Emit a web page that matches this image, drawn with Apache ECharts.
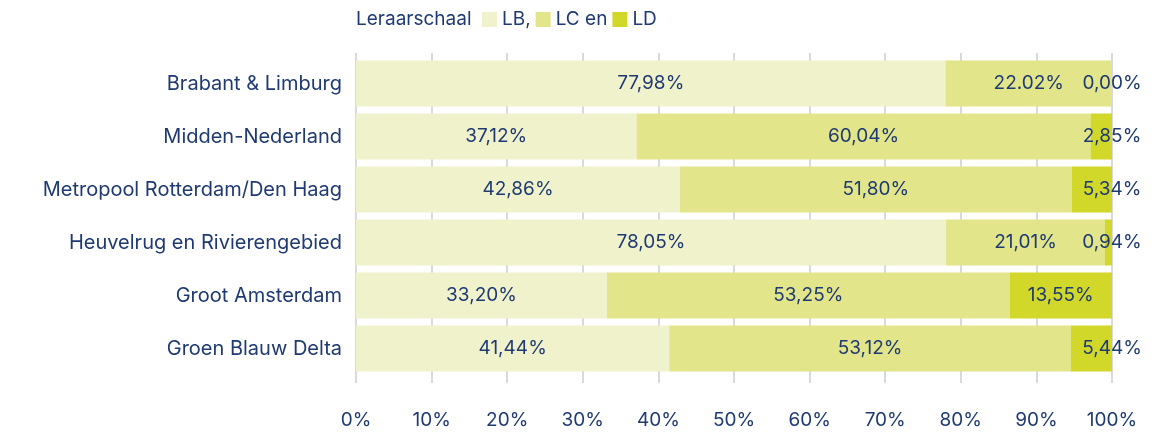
<!DOCTYPE html>
<html>
<head>
<meta charset="utf-8">
<script src="https://cdn.jsdelivr.net/npm/echarts@6/dist/echarts.min.js"></script>
<style>
  html, body { margin: 0; padding: 0; background: #fff; }
  #chart { width: 1160px; height: 434px; }
</style>
</head>
<body>
<div id="chart"></div>
<script>
var regions = ['Brabant & Limburg', 'Midden-Nederland', 'Metropool Rotterdam/Den Haag',
  'Heuvelrug en Rivierengebied', 'Groot Amsterdam', 'Groen Blauw Delta'];
var seriesNames = ['LB,', 'LC en', 'LD'];
var lbValues = [77.98, 37.12, 42.86, 78.05, 33.20, 41.44];
var lcValues = [22.02, 60.04, 51.80, 21.01, 53.25, 53.12];
var ldValues = [0.00, 2.85, 5.34, 0.94, 13.55, 5.44];
var xTicks = [0, 10, 20, 30, 40, 50, 60, 70, 80, 90, 100];

// the source writes this one label with a dot instead of a comma
var dotLabels = { 'LC en': ['Brabant & Limburg'] };

var navy = '#1f3a72';
var font = 'Inter';
var colors = ['#f0f2cc', '#e2e589', '#d1d829'];

function fmt(p) {
  var s = p.value.toFixed(2);
  var dots = dotLabels[p.seriesName] || [];
  if (dots.indexOf(p.name) < 0) s = s.replace('.', ',');
  return s + '%';
}

function makeSeries(name, values, i) {
  return {
    name: name,
    type: 'bar',
    stack: 'total',
    barCategoryGap: 7,
    itemStyle: { color: colors[i] },
    label: {
      show: true,
      position: 'inside',
      color: navy,
      fontFamily: font,
      fontSize: 19,
      formatter: fmt
    },
    data: values.map(function (v) {
      // small LD shares get their label centred on the end of the bar
      if (i === 2 && v < 10) {
        return { value: v, label: { position: 'right', distance: 0, align: 'center' } };
      }
      return v;
    })
  };
}

var chart = echarts.init(document.getElementById('chart'));
var axisBase = {
  type: 'value',
  min: 0,
  max: 100,
  interval: 10,
  axisLine: { show: false }
};
var option = {
  animation: false,
  title: {
    text: 'Leraarschaal',
    left: 351,
    top: 5,
    textStyle: { color: navy, fontFamily: font, fontSize: 19, fontWeight: 'normal' }
  },
  legend: {
    left: 477,
    top: 5,
    itemWidth: 15,
    itemHeight: 15,
    itemGap: 5,
    icon: 'rect',
    textStyle: { color: navy, fontFamily: font, fontSize: 19 },
    data: seriesNames
  },
  grid: { left: 356, right: 48, top: 57, bottom: 59, containLabel: false },
  xAxis: [
    Object.assign({}, axisBase, {
      position: 'bottom',
      axisTick: { show: true, length: 8, lineStyle: { color: '#d9d9df', width: 2 } },
      splitLine: { show: true, lineStyle: { color: '#d9d9df', width: 2 } },
      axisLabel: {
        color: navy, fontFamily: font, fontSize: 19, margin: 36,
        formatter: function (v) { return xTicks.indexOf(v) >= 0 ? v + '%' : ''; }
      }
    }),
    Object.assign({}, axisBase, {
      position: 'top',
      axisTick: { show: true, length: 4, lineStyle: { color: '#d9d9df', width: 2 } },
      splitLine: { show: false },
      axisLabel: { show: false }
    })
  ],
  yAxis: {
    type: 'category',
    inverse: true,
    data: regions,
    axisLine: { show: false },
    axisTick: { show: false },
    axisLabel: { color: navy, fontFamily: font, fontSize: 20, margin: 14 }
  },
  series: [
    makeSeries(seriesNames[0], lbValues, 0),
    makeSeries(seriesNames[1], lcValues, 1),
    makeSeries(seriesNames[2], ldValues, 2)
  ]
};
chart.setOption(option);
</script>
</body>
</html>
